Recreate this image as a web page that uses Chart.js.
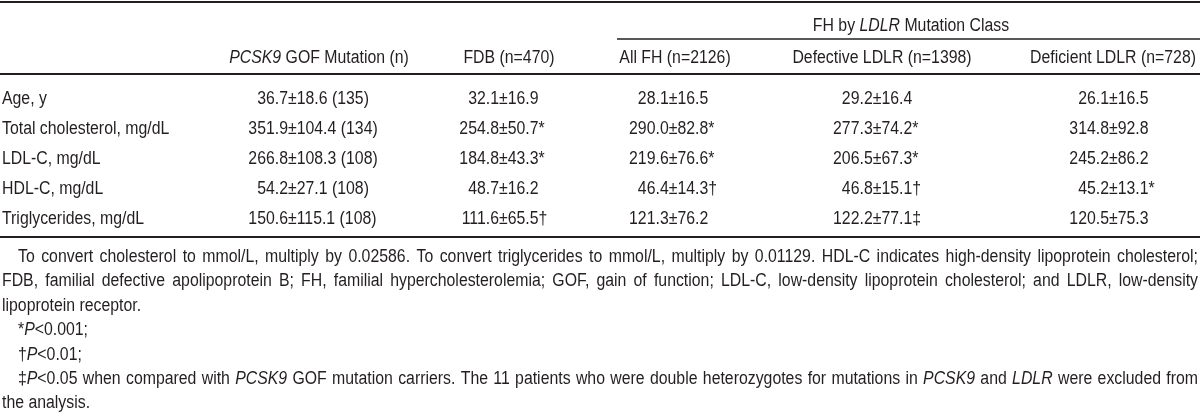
<!DOCTYPE html>
<html>
<head>
<meta charset="utf-8">
<script src="https://cdn.jsdelivr.net/npm/chart.js@4.4.1/dist/chart.umd.min.js"></script>
<style>
  html, body { margin: 0; padding: 0; background: #fff; }
  #wrap { width: 1200px; height: 412px; }
</style>
</head>
<body>
<div id="wrap"><canvas id="tableChart" width="1200" height="412"></canvas></div>
<script>
// ---- table content ----
const rowLabels = ['Age, y', 'Total cholesterol, mg/dL', 'LDL-C, mg/dL', 'HDL-C, mg/dL', 'Triglycerides, mg/dL'];
const columnHeaders = ['<i>PCSK9</i> GOF Mutation (n)', 'FDB (n=470)', 'All FH (n=2126)', 'Defective LDLR (n=1398)', 'Deficient LDLR (n=728)'];
const spanHeader = 'FH by <i>LDLR</i> Mutation Class';
const pcsk9Values = ['36.7±18.6 (135)', '351.9±104.4 (134)', '266.8±108.3 (108)', '54.2±27.1 (108)', '150.6±115.1 (108)'];
const fdbValues = ['32.1±16.9', '254.8±50.7*', '184.8±43.3*', '48.7±16.2', '111.6±65.5†'];
const allFhValues = ['28.1±16.5', '290.0±82.8*', '219.6±76.6*', '46.4±14.3†', '121.3±76.2'];
const defectiveValues = ['29.2±16.4', '277.3±74.2*', '206.5±67.3*', '46.8±15.1†', '122.2±77.1‡'];
const deficientValues = ['26.1±16.5', '314.8±92.8', '245.2±86.2', '45.2±13.1*', '120.5±75.3'];
const footnotes = [
    'To convert cholesterol to mmol/L, multiply by 0.02586. To convert triglycerides to mmol/L, multiply by 0.01129. HDL-C indicates high-density lipoprotein cholesterol;',
    'FDB, familial defective apolipoprotein B; FH, familial hypercholesterolemia; GOF, gain of function; LDL-C, low-density lipoprotein cholesterol; and LDLR, low-density',
    'lipoprotein receptor.',
    '*<i>P</i><0.001;',
    '†<i>P</i><0.01;',
    '‡<i>P</i><0.05 when compared with <i>PCSK9</i> GOF mutation carriers. The 11 patients who were double heterozygotes for mutations in <i>PCSK9</i> and <i>LDLR</i> were excluded from',
    'the analysis.'
];
const columns = [pcsk9Values, fdbValues, allFhValues, defectiveValues, deficientValues];

// ---- layout (page units = px) ----
const FONT_FAMILY = '"Liberation Sans", Arial, sans-serif';
const FONT_SIZE = 18;
const SX = 0.88;             // horizontal squeeze -> condensed face
const INK = '#231f20';
const colAnchor = [288, 499, 668.7, 872.7, 1109];   // x of the ± sign per column
const headerCenter = [319, 509, 675, 882, 1113];
const spanLeft = 617, spanCenter = 911;
const rowsTop = 84.6, rowsBottom = 233.6;
const Y = { topRule: 2, span: 26, spanRule: 39, header: 58, headerRule: 74, bottomRule: 237 };
const noteTop = 257, noteStep = 24.4, noteIndent = 18, noteRight = 1198;
const justified = [true, true, false, false, false, true, false];
const indented = [true, false, false, true, true, true, false];

function fontFor(italic) {
    return (italic ? 'italic ' : '') + FONT_SIZE + 'px ' + FONT_FAMILY;
}

// split "<i>..</i>" markup into runs
function parseRuns(str) {
    const runs = [];
    str.split(/(<i>.*?<\/i>)/).forEach(part => {
        if (!part) return;
        if (part.startsWith('<i>')) runs.push({ t: part.slice(3, -4), i: true });
        else runs.push({ t: part, i: false });
    });
    return runs;
}

function textW(ctx, t, italic) {
    ctx.font = fontFor(italic);
    return ctx.measureText(t).width * SX;
}

function drawText(ctx, t, x, y, italic) {
    ctx.font = fontFor(italic);
    ctx.save();
    ctx.translate(x, y);
    ctx.scale(SX, 1);
    ctx.fillText(t, 0, 0);
    ctx.restore();
    return x + ctx.measureText(t).width * SX;
}

function runsWidth(ctx, runs) {
    return runs.reduce((w, r) => w + textW(ctx, r.t, r.i), 0);
}

function drawRuns(ctx, runs, x, y) {
    runs.forEach(r => { x = drawText(ctx, r.t, x, y, r.i); });
    return x;
}

// words made of runs, spread to fill x0..x1
function drawJustified(ctx, str, x0, x1, y) {
    const words = [];
    let cur = [];
    parseRuns(str).forEach(r => {
        r.t.split(' ').forEach((b, k) => {
            if (k > 0) { words.push(cur); cur = []; }
            if (b) cur.push({ t: b, i: r.i });
        });
    });
    words.push(cur);
    const ws = words.filter(w => w.length);
    const space = textW(ctx, ' ', false);
    const natural = ws.reduce((s, w) => s + runsWidth(ctx, w), 0);
    let gap = (x1 - x0 - natural) / (ws.length - 1);
    if (gap < space * 0.8) gap = space * 0.8;
    let x = x0;
    ws.forEach(w => { x = drawRuns(ctx, w, x, y) + gap; });
}

const tablePlugin = {
    id: 'tableText',
    afterDatasetsDraw(chart) {
        const ctx = chart.ctx;
        const yScale = chart.scales.y;
        ctx.save();
        ctx.fillStyle = INK;
        ctx.strokeStyle = INK;
        ctx.textBaseline = 'middle';
        ctx.textAlign = 'left';

        // rules
        const rule = (x0, x1, y, w) => {
            ctx.lineWidth = w;
            ctx.beginPath(); ctx.moveTo(x0, y); ctx.lineTo(x1, y); ctx.stroke();
        };
        rule(0, 1200, Y.topRule, 2);
        rule(spanLeft, 1200, Y.spanRule, 1.5);
        rule(0, 1200, Y.headerRule, 2);
        rule(0, 1200, Y.bottomRule, 2);

        // headers
        const centered = (str, cx, y) => {
            const runs = parseRuns(str);
            drawRuns(ctx, runs, cx - runsWidth(ctx, runs) / 2, y);
        };
        centered(spanHeader, spanCenter, Y.span);
        columnHeaders.forEach((h, c) => centered(h, headerCenter[c], Y.header));

        // row labels
        rowLabels.forEach(r => drawText(ctx, r, 2, yScale.getPixelForValue(r), false));

        // cells, aligned on the ± sign
        chart.data.datasets.forEach((ds, c) => {
            const meta = chart.getDatasetMeta(c);
            meta.data.forEach((pt, i) => {
                const v = columns[c][i];
                const k = v.indexOf('±');
                const left = v.slice(0, k);
                drawText(ctx, left, pt.x - textW(ctx, left, false), pt.y, false);
                drawText(ctx, v.slice(k), pt.x, pt.y, false);
            });
        });

        // footnotes
        footnotes.forEach((line, n) => {
            const y = noteTop + n * noteStep;
            const x0 = indented[n] ? noteIndent : 2;
            if (justified[n]) drawJustified(ctx, line, x0, noteRight, y);
            else drawRuns(ctx, parseRuns(line), x0, y);
        });
        ctx.restore();
    }
};

new Chart(document.getElementById('tableChart'), {
    type: 'scatter',
    data: {
        datasets: columns.map((vals, c) => ({
            label: columnHeaders[c],
            data: vals.map((v, i) => ({ x: colAnchor[c], y: rowLabels[i] })),
            pointRadius: 0,
            showLine: false
        }))
    },
    options: {
        responsive: false,
        animation: false,
        layout: { padding: { top: rowsTop, bottom: 412 - rowsBottom, left: 0, right: 0 } },
        plugins: { legend: { display: false }, tooltip: { enabled: false } },
        scales: {
            x: { type: 'linear', min: 0, max: 1200, display: false },
            y: { type: 'category', labels: rowLabels, offset: true, display: false }
        }
    },
    plugins: [tablePlugin]
});
</script>
</body>
</html>
